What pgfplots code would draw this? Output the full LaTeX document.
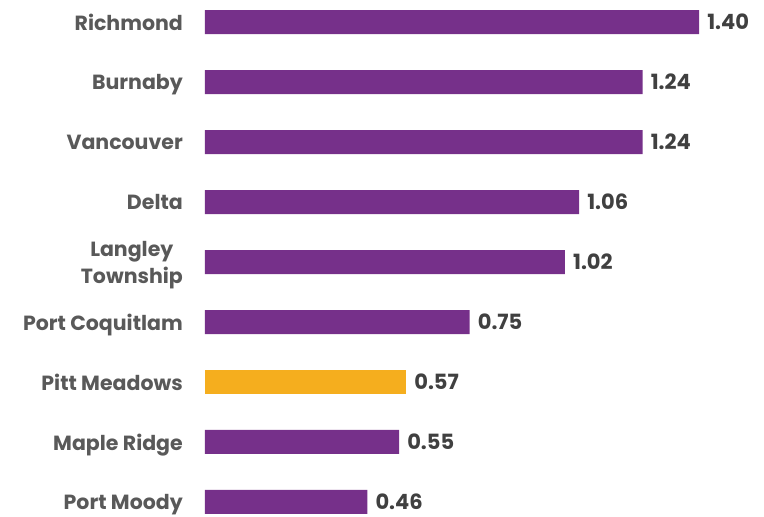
\documentclass[border=0pt]{standalone}
\usepackage{fontspec}
\setmainfont{Poppins}
\usepackage{pgfplots}
\pgfplotsset{compat=1.18}
\definecolor{barpurple}{HTML}{76308A}
\definecolor{bargold}{HTML}{F5AE1E}
\definecolor{labgray}{HTML}{595959}
\definecolor{valgray}{HTML}{404040}
\begin{document}
\begin{tikzpicture}[x=1pt,y=1pt]
\useasboundingbox (0,0) rectangle (764,517);
\begin{axis}[
  at={(205pt,0pt)}, anchor=south west,
  scale only axis, width=547pt, height=517pt,
  xmin=0, xmax=1.55, ymin=-0.25, ymax=8.3667,
  axis line style={draw=none}, major tick length=0pt,
  xtick=\empty,
  ytick={0,1,2,3,4,5,6,7,8},
  yticklabels={Port Moody, Maple Ridge, Pitt Meadows, Port Coquitlam, {Langley\\Township}, Delta, Vancouver, Burnaby, Richmond},
  yticklabel style={font=\fontsize{20.5}{27}\selectfont\bfseries, text=labgray, align=center, inner sep=0pt, text depth=0pt, xshift=-22pt},
  xbar, bar width=24pt, bar shift=0pt,
  point meta=x,
  nodes near coords,
  /pgf/number format/.cd, fixed, precision=2, zerofill, assume math mode=true,
  /pgfplots/.cd,
  every node near coord/.append style={font=\fontsize{21}{24}\selectfont\bfseries, text=valgray, anchor=west, inner sep=0pt, xshift=8pt},
]
\addplot[draw=none, fill=barpurple] coordinates {(0.46,0) (0.55,1) (0.75,3) (1.02,4) (1.06,5) (1.24,6) (1.24,7) (1.40,8)};
\addplot[draw=none, fill=bargold] coordinates {(0.57,2)};
\end{axis}
\end{tikzpicture}
\end{document}
